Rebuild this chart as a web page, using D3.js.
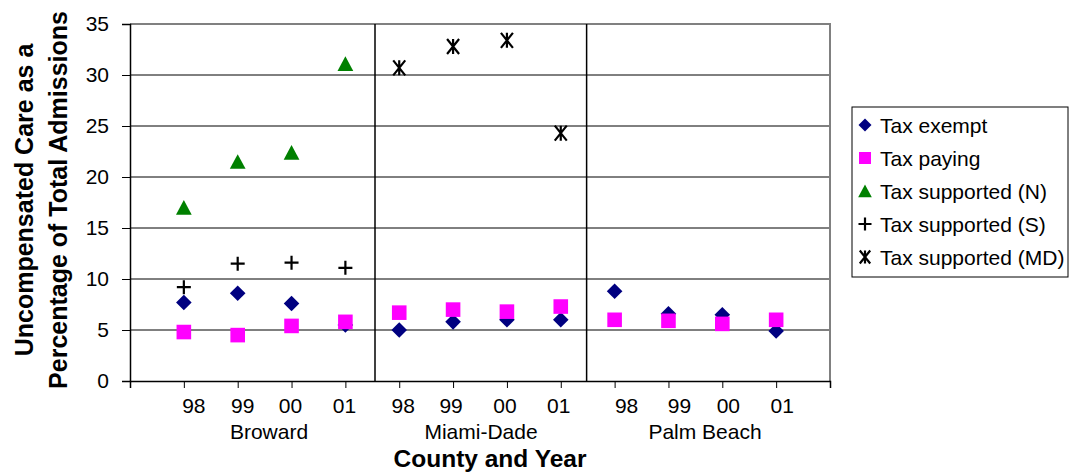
<!DOCTYPE html>
<html>
<head>
<meta charset="utf-8">
<script src="https://cdn.jsdelivr.net/npm/d3@7/dist/d3.min.js"></script>
<style>
  html, body { margin: 0; padding: 0; background: #fff; }
  svg { display: block; font-family: "Liberation Sans", Arial, sans-serif; }
</style>
</head>
<body>
<svg id="chart" width="1070" height="473"></svg>
<script>
// Uncompensated care as a share of total admissions, by county and fiscal year
const counties = ["Broward", "Miami-Dade", "Palm Beach"];
const years = ["98", "99", "00", "01"];
const yTicks = [0, 5, 10, 15, 20, 25, 30, 35];

// One value per county-year slot (Broward 98..01, Miami-Dade 98..01, Palm Beach 98..01)
const taxExempt   = [7.7, 8.6, 7.6, 5.5, 5.0, 5.8, 6.0, 6.0, 8.8, 6.6, 6.5, 4.9];
const taxPaying   = [4.8, 4.5, 5.4, 5.8, 6.7, 7.0, 6.8, 7.3, 6.0, 5.9, 5.6, 6.0];
const supportedN  = [17.0, 21.5, 22.4, 31.1, null, null, null, null, null, null, null, null];
const supportedS  = [9.2, 11.5, 11.6, 11.1, null, null, null, null, null, null, null, null];
const supportedMD = [null, null, null, null, 30.7, 32.8, 33.4, 24.3, null, null, null, null];

// County dividers, in slot units
const dividers = [4.55, 8.48];

const seriesNames = ["Tax exempt", "Tax paying", "Tax supported (N)", "Tax supported (S)", "Tax supported (MD)"];

const svg = d3.select("#chart");
const plotLeft = 130, plotRight = 830, plotTop = 24, plotBottom = 381;
const labelFont = 21;

const x = d3.scaleLinear().domain([0, 13]).range([plotLeft, plotRight]);
const y = d3.scaleLinear().domain([0, 35]).range([plotBottom, plotTop]);

// Marker shapes
const shapes = {
  diamond: s => `M0,${-s}L${s},0L0,${s}L${-s},0Z`,
  square: s => `M${-s},${-s}H${s}V${s}H${-s}Z`,
  triangle: s => `M0,${-s}L${s * 1.05},${s * 0.95}L${-s * 1.05},${s * 0.95}Z`,
  plus: s => `M${-s},0H${s}M0,${-s}V${s}`,
  star: s => `M${-s * 0.8},${-s}L${s * 0.8},${s}M${s * 0.8},${-s}L${-s * 0.8},${s}M0,${-s}V${s}`
};

const series = [
  { name: seriesNames[0], values: taxExempt,   shape: "diamond",  size: 7.8, fill: "#000080", stroke: "none" },
  { name: seriesNames[1], values: taxPaying,   shape: "square",   size: 7.3, fill: "#FF00FF", stroke: "none" },
  { name: seriesNames[2], values: supportedN,  shape: "triangle", size: 7.5, fill: "#008000", stroke: "none" },
  { name: seriesNames[3], values: supportedS,  shape: "plus",     size: 7,   fill: "none",    stroke: "#000" },
  { name: seriesNames[4], values: supportedMD, shape: "star",     size: 7.5, fill: "none",    stroke: "#000" }
];

// Horizontal gridlines
svg.append("g")
  .selectAll("line")
  .data(yTicks.filter(t => t > 0 && t < 35))
  .join("line")
  .attr("x1", plotLeft).attr("x2", plotRight)
  .attr("y1", d => y(d)).attr("y2", d => y(d))
  .attr("stroke", "#000").attr("stroke-width", 1);

// Plot frame: grey top and right edges
svg.append("path")
  .attr("d", `M${plotLeft},${y(35)}H${plotRight}V${plotBottom}`)
  .attr("fill", "none").attr("stroke", "#808080").attr("stroke-width", 2);

// County dividers
svg.append("g")
  .selectAll("line")
  .data(dividers)
  .join("line")
  .attr("x1", d => x(d)).attr("x2", d => x(d))
  .attr("y1", y(35)).attr("y2", plotBottom)
  .attr("stroke", "#000").attr("stroke-width", 1.5);

// Y axis
const yAxis = svg.append("g")
  .attr("transform", `translate(${plotLeft},0)`)
  .call(d3.axisLeft(y).tickValues(yTicks).tickSize(8).tickPadding(13));
yAxis.select(".domain").attr("stroke", "#000").attr("stroke-width", 1.5);
yAxis.selectAll(".tick line").attr("stroke", "#000");
yAxis.selectAll(".tick text")
  .attr("font-size", labelFont).attr("fill", "#000")
  .attr("font-family", "Liberation Sans, Arial, sans-serif");

// X axis: tick at every slot boundary, year labels under each slot
const slots = d3.range(1, 13);
const xAxis = svg.append("g")
  .attr("transform", `translate(0,${plotBottom})`)
  .call(d3.axisBottom(x).tickValues(d3.range(0, 14)).tickSize(7).tickFormat(""));
xAxis.select(".domain").attr("stroke", "#000").attr("stroke-width", 1.5);
xAxis.selectAll(".tick line").attr("stroke", "#000");

// small horizontal nudges for the year labels (px)
const yearLabelNudge = [10, 5, -1, -1, 4, -2, -2, -2, 12, 11, 6, 6];
svg.append("g")
  .selectAll("text")
  .data(slots)
  .join("text")
  .attr("x", d => x(d) + yearLabelNudge[d - 1])
  .attr("y", 413)
  .attr("text-anchor", "middle")
  .attr("font-size", labelFont)
  .text(d => years[(d - 1) % 4]);

// County labels
const countyCenters = [269, 481, 705];
svg.append("g")
  .selectAll("text")
  .data(counties)
  .join("text")
  .attr("x", (d, i) => countyCenters[i])
  .attr("y", 439)
  .attr("text-anchor", "middle")
  .attr("font-size", labelFont)
  .text(d => d);

// Axis titles
svg.append("text")
  .attr("x", 490).attr("y", 467)
  .attr("text-anchor", "middle")
  .attr("font-size", 24.5).attr("font-weight", "bold")
  .text("County and Year");

const yTitle = svg.append("text")
  .attr("transform", "translate(0,200) rotate(-90)")
  .attr("text-anchor", "middle")
  .attr("font-size", 25).attr("font-weight", "bold");
yTitle.append("tspan").attr("x", 0).attr("y", 33).text("Uncompensated Care as a");
yTitle.append("tspan").attr("x", 0).attr("y", 67).text("Percentage of Total Admissions");

// Data markers
series.forEach(s => {
  svg.append("g")
    .selectAll("path")
    .data(s.values.map((v, i) => ({ slot: i + 1, v })).filter(d => d.v != null))
    .join("path")
    .attr("transform", d => `translate(${x(d.slot)},${y(d.v)})`)
    .attr("d", shapes[s.shape](s.size))
    .attr("fill", s.fill)
    .attr("stroke", s.stroke)
    .attr("stroke-width", s.stroke === "none" ? 0 : 2.2);
});

// Legend
const legend = svg.append("g").attr("transform", "translate(852,107)");
legend.append("rect")
  .attr("x", 0).attr("y", 0).attr("width", 216).attr("height", 170)
  .attr("fill", "#fff").attr("stroke", "#000").attr("stroke-width", 1);
const rows = legend.selectAll("g.row")
  .data(series)
  .join("g")
  .attr("class", "row")
  .attr("transform", (d, i) => `translate(0,${18 + i * 33})`);
rows.append("path")
  .attr("transform", "translate(13,0)")
  .attr("d", d => shapes[d.shape](d.shape === "square" ? 6 : 6.5))
  .attr("fill", d => d.fill)
  .attr("stroke", d => d.stroke)
  .attr("stroke-width", d => d.stroke === "none" ? 0 : 2.2);
rows.append("text")
  .attr("x", 28).attr("y", 7.5)
  .attr("font-size", labelFont)
  .text(d => d.name);
</script>
</body>
</html>
